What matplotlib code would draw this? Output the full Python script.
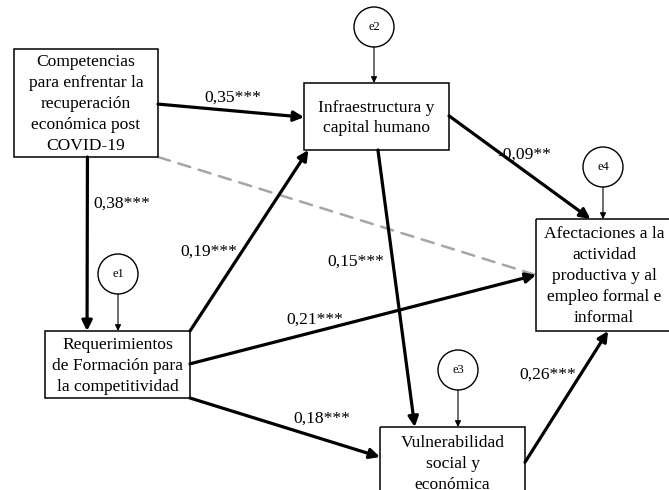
import matplotlib
matplotlib.use("Agg")
import matplotlib.pyplot as plt
from matplotlib.patches import Rectangle, Circle, FancyArrowPatch

plt.rcParams['font.family'] = ['Liberation Serif', 'DejaVu Serif']

# --- diagram content -------------------------------------------------------
node_names = ['comp', 'infra', 'req', 'afect', 'vuln']
node_texts = ['Competencias\npara enfrentar la\nrecuperación\neconómica post\nCOVID-19',
              'Infraestructura y\ncapital humano',
              'Requerimientos\nde Formación para\nla competitividad',
              'Afectaciones a la\nactividad\nproductiva y al\nempleo formal e\ninformal',
              'Vulnerabilidad\nsocial y\neconómica']

path_from = ['comp', 'comp', 'comp', 'req', 'req', 'req', 'infra', 'infra', 'vuln']
path_to = ['infra', 'req', 'afect', 'infra', 'afect', 'vuln', 'vuln', 'afect', 'afect']
path_coef = ['0,35***', '0,38***', '', '0,19***', '0,21***', '0,18***', '0,15***', '-0,09**', '0,26***']
path_signif = [True, True, False, True, True, True, True, True, True]

error_names = ['e2', 'e1', 'e3', 'e4']
error_target = ['infra', 'req', 'vuln', 'afect']

# --- layout (pixels, y downwards) -----------------------------------------
box = {'comp': (14, 49, 144, 108), 'infra': (304, 83, 145, 67), 'req': (45, 331, 145, 67),
       'afect': (536, 219, 136, 112), 'vuln': (380, 427, 145, 75)}
text_y = {'comp': 104, 'infra': 118, 'req': 366, 'afect': 276, 'vuln': 464}
# anchor fractions (fx, fy) on the source / target box
anchor_from = [(1, 0.51), (0.51, 1), (1, 1), (1, 0), (1, 0.49), (1, 1), (0.51, 1), (1, 0.49), (1, 0.47)]
anchor_to = [(0, 0.51), (0.29, 0), (0, 0.5), (0.03, 1), (0, 0.5), (0, 0.4), (0.24, 0), (0.4, 0), (0.53, 1)]
label_pos = [(233, 98, 'center'), (93, 204, 'left'), (0, 0, 'center'), (209, 252, 'center'),
             (315, 320, 'center'), (322, 419, 'center'), (356, 262, 'center'), (524, 155, 'center'),
             (548, 375, 'center')]
error_pos = {'e2': (374, 27), 'e1': (118, 274), 'e3': (458, 370), 'e4': (603, 167)}
radius = 20


def anchor(name, fx, fy):
    x0, y0, w, h = box[name]
    return (x0 + fx * w, y0 + fy * h)


fig = plt.figure(figsize=(6.69, 4.90), dpi=100)
ax = fig.add_axes([0, 0, 1, 1])
ax.set_xlim(0, 669)
ax.set_ylim(490, 0)
ax.axis('off')

for name, txt in zip(node_names, node_texts):
    x0, y0, w, h = box[name]
    ax.add_patch(Rectangle((x0, y0), w, h, fill=False, edgecolor='black', lw=1.1, zorder=3))
    ax.text(x0 + w / 2, text_y[name], txt, ha='center', va='center', fontsize=12.6,
            linespacing=1.4, zorder=4)

for i in range(len(path_from)):
    p0 = anchor(path_from[i], *anchor_from[i])
    p1 = anchor(path_to[i], *anchor_to[i])
    if path_signif[i]:
        arr = FancyArrowPatch(p0, p1, arrowstyle='-|>', mutation_scale=15, lw=2.3,
                              color='black', shrinkA=0, shrinkB=0, zorder=2)
    else:
        arr = FancyArrowPatch(p0, p1, arrowstyle='-', lw=1.8, color='#a6a6a6',
                              linestyle=(0, (5, 3.5)), shrinkA=0, shrinkB=0, zorder=1)
    ax.add_patch(arr)
    if path_coef[i]:
        lx, ly, ha = label_pos[i]
        ax.text(lx, ly, path_coef[i], ha=ha, va='center', fontsize=12.6, zorder=4)

for name, tgt in zip(error_names, error_target):
    cx, cy = error_pos[name]
    ax.add_patch(Circle((cx, cy), radius, fill=False, edgecolor='black', lw=1.0, zorder=3))
    ax.text(cx, cy, name, ha='center', va='center', fontsize=9, zorder=4)
    top = box[tgt][1]
    ax.add_patch(FancyArrowPatch((cx, cy + radius), (cx, top), arrowstyle='-|>', mutation_scale=9,
                                 lw=0.8, color='black', shrinkA=0, shrinkB=0, zorder=2))

fig.savefig('out.png', dpi=100)
